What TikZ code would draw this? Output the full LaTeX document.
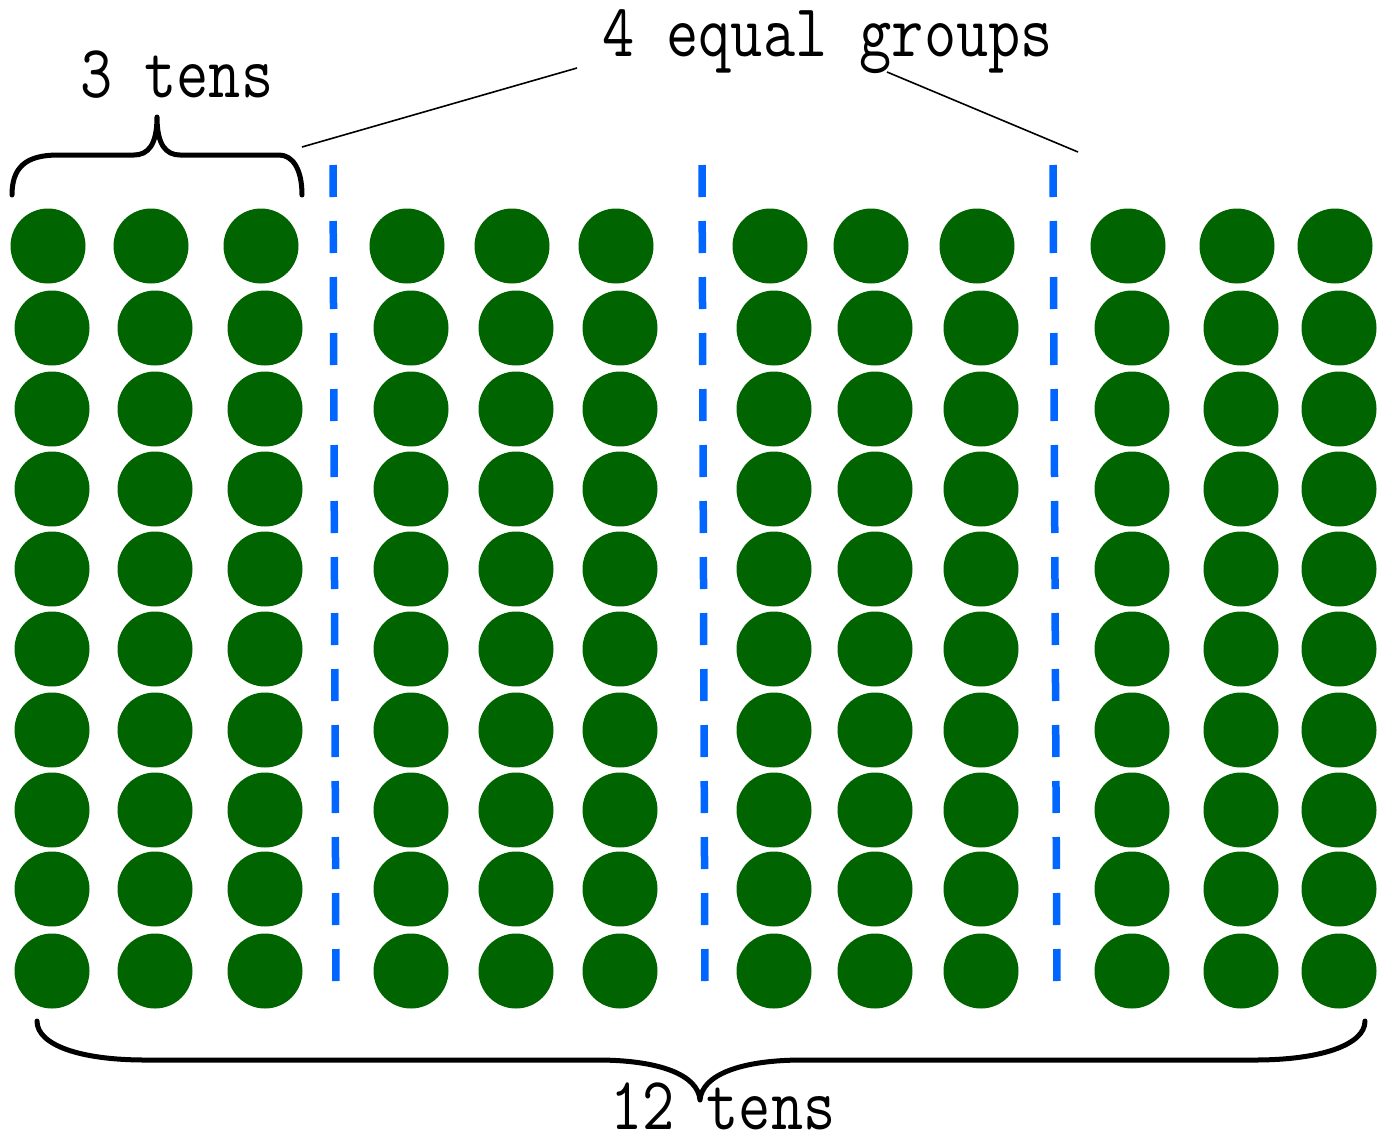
\documentclass[tikz,border=0pt]{standalone}
\usepackage{graphicx}
\definecolor{dotgreen}{RGB}{0,100,0}
\definecolor{dashblue}{RGB}{0,102,255}
\tikzset{
  dot/.style={circle, fill=dotgreen, minimum size=75pt, inner sep=0pt},
  divider/.style={draw=dashblue, line width=7.5pt, dash pattern=on 32pt off 24pt},
  bracepath/.style={draw=black, line width=5pt, line cap=round, line join=round},
  leader/.style={draw=black, line width=1.6pt},
  lbl/.style={inner sep=0pt, anchor=base west, font=\fontsize{62.5}{72}\selectfont\ttfamily}
}
\newcommand{\tallbox}[1]{\scalebox{1}[1.2]{#1}}
\begin{document}
\begin{tikzpicture}[x=1pt,y=-1pt]
\useasboundingbox (0,0) rectangle (1377,1141);
% dots
\foreach \c/\x in {1/52,2/155,3/265,4/411,5/516,6/620,7/774,8/875,9/981,10/1132,11/1241,12/1339}
  \foreach \r/\y in {1/246,2/328,3/409,4/489,5/569,6/649,7/730,8/810,9/889,10/971} {
    \pgfmathsetmacro{\xx}{\x - (\r==1 ? 4 : 0)}
    \node[dot] (d\c-\r) at (\xx,\y) {};
  }
% dashed dividers
\coordinate (v1t) at (333,165); \coordinate (v1b) at (336,997);
\coordinate (v2t) at (702,165); \coordinate (v2b) at (705,997);
\coordinate (v3t) at (1053,165); \coordinate (v3b) at (1057,997);
\draw[divider] (v1t) -- (v1b);
\draw[divider] (v2t) -- (v2b);
\draw[divider] (v3t) -- (v3b);
% labels
\node[lbl] (threetens) at (80,97) {\tallbox{3 tens}};
\node[lbl] (groups) at (602,56) {\tallbox{4 equal groups}};
\node[lbl] (twelvetens) at (610,1129) {\tallbox{12 tens}};
% leader lines
\coordinate (g1) at (577,68); \coordinate (b1) at (302,147);
\coordinate (g2) at (887,72); \coordinate (b2) at (1078,152);
\draw[leader] (g1) -- (b1);
\draw[leader] (g2) -- (b2);
% top brace
\coordinate (tb1) at (12,195); \coordinate (tbtip) at (157,117); \coordinate (tb2) at (302,195);
\draw[bracepath] (tb1) .. controls (12,168) and (25,155) .. (58,155) -- (134,155)
  .. controls (148,155) and (157,145) .. (tbtip)
  .. controls (157,145) and (166,155) .. (180,155) -- (279,155)
  .. controls (292,155) and (302,168) .. (tb2);
% bottom brace
\coordinate (bb1) at (37,1021); \coordinate (bbtip) at (700,1100); \coordinate (bb2) at (1365,1021);
\draw[bracepath] (bb1) .. controls (37,1045) and (80,1060) .. (145,1060) -- (597,1060)
  .. controls (660,1060) and (698,1075) .. (bbtip)
  .. controls (702,1075) and (740,1060) .. (803,1060) -- (1255,1060)
  .. controls (1320,1060) and (1365,1045) .. (bb2);
\end{tikzpicture}
\end{document}
